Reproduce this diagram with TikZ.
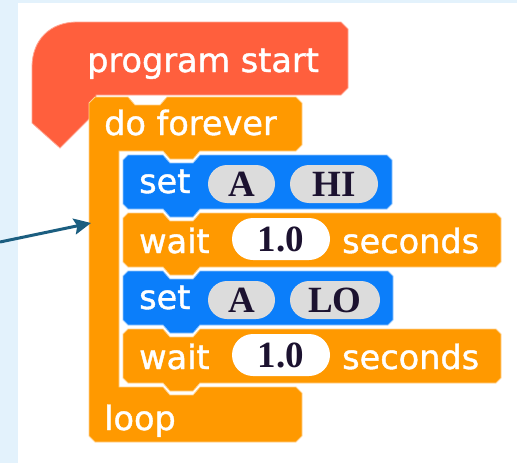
\documentclass[tikz,border=0pt]{standalone}
\usepackage{fontspec}
\setmainfont{DejaVu Sans}[FakeBold=1.2]
\newfontfamily\blockfont{DejaVu Sans}[FakeBold=1.2]
\newfontfamily\pillfont{Liberation Serif}
\usetikzlibrary{arrows.meta}

\definecolor{pagebg}{HTML}{E3F2FC}
\definecolor{hatred}{HTML}{FF5F3D}
\definecolor{ctrlorange}{HTML}{FF9900}
\definecolor{setblue}{HTML}{0B7EFA}
\definecolor{pillgray}{HTML}{DCDCDC}
\definecolor{pilltext}{HTML}{1C1230}
\definecolor{arrowteal}{HTML}{1B5E80}

% statement block outline: left, top, right, bottom (notch on top, tab below)
\newcommand\stmtpath[4]{%
  (#1,{#2+5}) -- ({#1+5},#2) -- ({#1+40},#2) -- ({#1+47},{#2+8}) -- ({#1+70},{#2+8})
  -- ({#1+77},#2) -- ({#3-5},#2) -- (#3,{#2+5}) -- (#3,{#4-5}) -- ({#3-5},#4)
  -- ({#1+77},#4) -- ({#1+70},{#4+8}) -- ({#1+47},{#4+8}) -- ({#1+40},#4)
  -- ({#1+5},#4) -- (#1,{#4-5}) -- cycle}

\tikzset{
  redblk/.style={fill=hatred, draw=hatred!55!white, line width=0.8pt},
  orangeblk/.style={fill=ctrlorange, draw=ctrlorange!45!white, line width=0.8pt},
  blueblk/.style={fill=setblue, draw=setblue!45!white, line width=0.8pt},
  lbl/.style={text=white, font=\blockfont\fontsize{33.5}{34}\selectfont, inner sep=0pt, anchor=base west},
  pill/.style={fill=pillgray, text=pilltext, inner sep=0pt, minimum height=38pt,
    rounded corners=19pt, font=\pillfont\bfseries\fontsize{37}{37}\selectfont},
  numpill/.style={pill, fill=white, minimum height=42pt, rounded corners=21pt},
  arrowline/.style={draw=arrowteal, line width=3pt,
    -{Stealth[length=17pt, width=16pt, inset=3pt]}}
}

\begin{document}
\begin{tikzpicture}[x=1pt, y=-1pt]
\useasboundingbox (0,0) rectangle (517,463);
\fill[pagebg] (0,0) rectangle (517,463);
\fill[white] (18,3) rectangle (517,463);

% hat block
\path[redblk] (32,123) -- (32,67) .. controls (32,40) and (50,22) .. (77,22)
  -- (341,22) -- (348,29) -- (348,88) -- (341,95) -- (96,95) -- (96,112)
  -- (60,148) -- cycle;

% C-shaped loop block
\path[orangeblk] (89,103) -- (95,97) -- (128,97) -- (135,105) -- (160,105) -- (167,97)
  -- (296,97) -- (302,103) -- (302,145) -- (296,151) -- (200,151) -- (193,159)
  -- (170,159) -- (163,151) -- (119,151) -- (119,387) -- (163,387) -- (170,395)
  -- (193,395) -- (200,387) -- (296,387) -- (302,393) -- (302,436) -- (296,442)
  -- (95,442) -- (89,436) -- cycle;

% inner statements
\path[blueblk]   \stmtpath{123}{155}{392}{209};
\path[orangeblk] \stmtpath{123}{213}{501}{267};
\path[blueblk]   \stmtpath{123}{271}{393}{325};
\path[orangeblk] \stmtpath{123}{329}{501}{383};

% labels
\node[lbl] (tprog) at (87,72) {program start};
\node[lbl] (tdo) at (104,135) {do forever};
\node[lbl] (tset1) at (139,193) {set};
\node[pill, minimum width=67pt] (pa1) at (241.5,184) {A};
\node[pill, minimum width=88pt] (phi) at (334,184) {HI};
\node[lbl] (twait1) at (139,253) {wait};
\node[numpill, minimum width=98pt] (pn1) at (281,239) {1.0};
\node[lbl] (tsec1) at (342,253) {seconds};
\node[lbl] (tset2) at (139,309) {set};
\node[pill, minimum width=67pt] (pa2) at (241.5,300) {A};
\node[pill, minimum width=90pt] (plo) at (335,300) {LO};
\node[lbl] (twait2) at (139,369) {wait};
\node[numpill, minimum width=98pt] (pn2) at (281,355) {1.0};
\node[lbl] (tsec2) at (342,369) {seconds};
\node[lbl] (tloop) at (104,430) {loop};

% pointer to the loop's side bar
\coordinate (tail) at (0,242);
\coordinate (armpt) at (91,223);
\draw[arrowline] (tail) -- (armpt);
\end{tikzpicture}
\end{document}
